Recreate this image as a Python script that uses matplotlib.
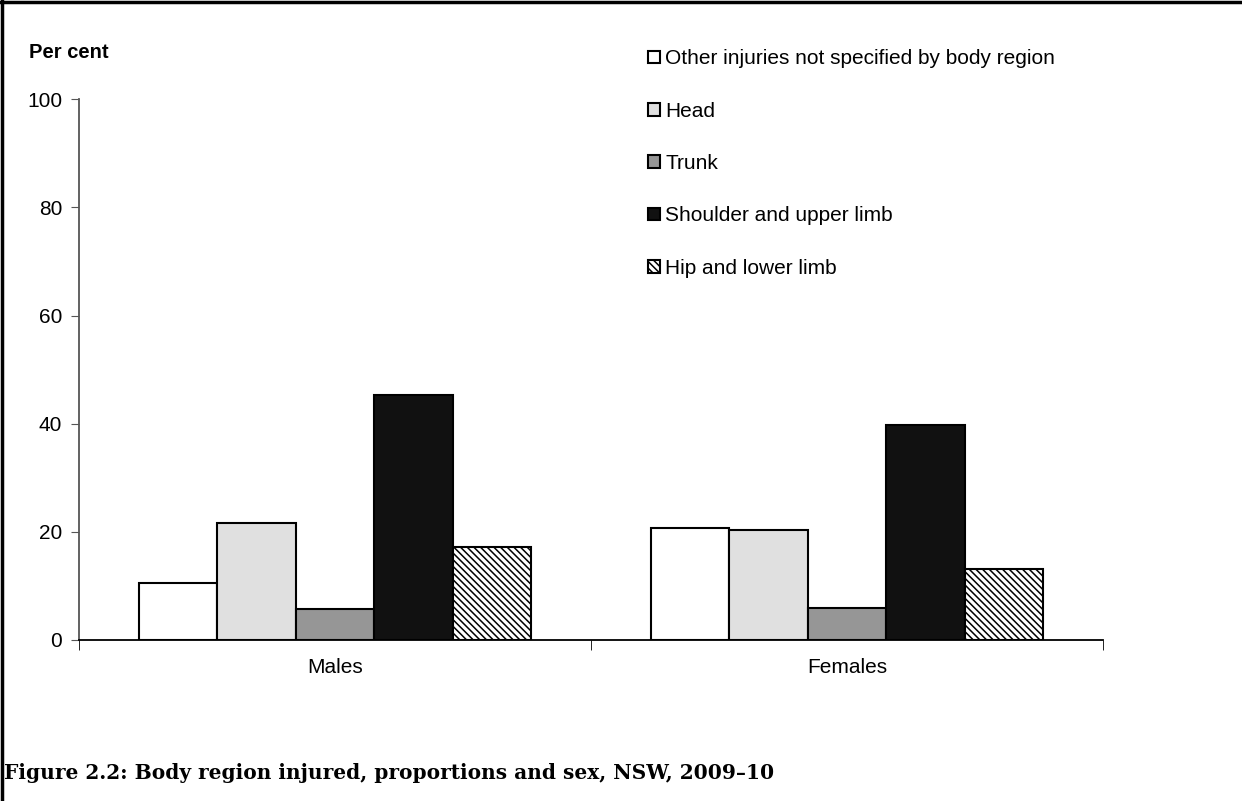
import numpy as np
import matplotlib
matplotlib.use("Agg")
import matplotlib.pyplot as plt
from matplotlib.lines import Line2D

plt.rcParams['font.family'] = ['Liberation Sans', 'DejaVu Sans']
plt.rcParams['hatch.linewidth'] = 1.1

# data (per cent)
sexes = ['Males', 'Females']
regions = ['Other injuries not specified by body region', 'Head', 'Trunk',
           'Shoulder and upper limb', 'Hip and lower limb']
other = [10.5, 20.7]
head = [21.7, 20.4]
trunk = [5.7, 6.0]
shoulder = [45.3, 39.8]
hip = [17.2, 13.1]
series = [other, head, trunk, shoulder, hip]

colors = ['white', '#e0e0e0', '#969696', '#111111', 'white']
hatches = [None, None, None, None, '\\' * 5]

fig = plt.figure(figsize=(12.42, 8.01), dpi=100)
ax = fig.add_axes([0.0636, 0.201, 0.8245, 0.675])

x = np.arange(len(sexes))
w = 0.1535
for i, (vals, lab) in enumerate(zip(series, regions)):
    ax.bar(x + (i - 2) * w, vals, w, color=colors[i], edgecolor='black',
           linewidth=1.5, hatch=hatches[i], label=lab, zorder=3)

ax.set_xlim(-0.5, 1.5)
ax.set_ylim(0, 100)
ax.set_yticks(range(0, 101, 20))
ax.tick_params(axis='y', labelsize=15, length=6, color='#555555', pad=6)

ax.set_xticks(x)
ax.set_xticklabels(sexes, fontsize=15)
ax.tick_params(axis='x', which='major', length=0, pad=13)
ax.set_xticks([-0.5, 0.5, 1.5], minor=True)
ax.tick_params(axis='x', which='minor', length=7, direction='out', color='black')

for s in ['top', 'right']:
    ax.spines[s].set_visible(False)
ax.spines['left'].set_color('#555555')
ax.spines['left'].set_linewidth(1.3)
ax.spines['bottom'].set_color('black')
ax.spines['bottom'].set_linewidth(1.3)

fig.text(29 / 1242, 1 - 53 / 801, 'Per cent', fontsize=14.5, fontweight='bold',
         va='center', ha='left')

leg = fig.legend(loc='upper left', bbox_to_anchor=(640 / 1242, 1 - 41 / 801),
                 frameon=False, fontsize=15, handlelength=0.55, handleheight=0.55,
                 handletextpad=0.25, labelspacing=1.6, borderaxespad=0)

fig.text(4 / 1242, 1 - 773 / 801,
         'Figure 2.2: Body region injured, proportions and sex, NSW, 2009\u201310',
         fontsize=14.5, fontweight='bold', family=['DejaVu Serif'],
         va='center', ha='left')

# frame on top and left edges
fig.add_artist(Line2D([0, 1], [0.997, 0.997], transform=fig.transFigure,
                      color='black', linewidth=2.5))
fig.add_artist(Line2D([0.002, 0.002], [0, 1], transform=fig.transFigure,
                      color='black', linewidth=2.5))

fig.savefig('out.png', dpi=100)
